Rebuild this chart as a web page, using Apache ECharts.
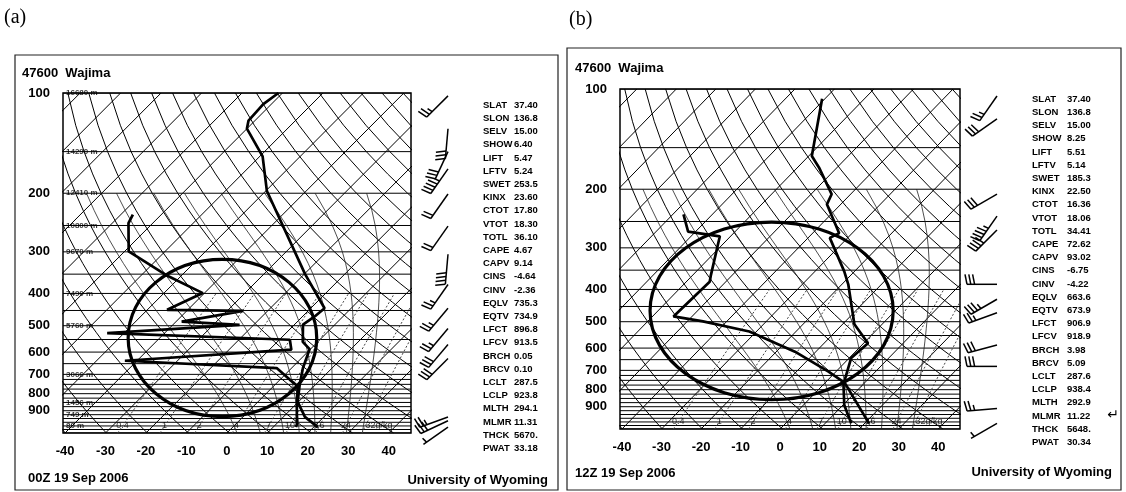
<!DOCTYPE html>
<html>
<head>
<meta charset="utf-8">
<script src="https://cdn.jsdelivr.net/npm/echarts@6/dist/echarts.min.js"></script>
<style>
html,body{margin:0;padding:0;background:#fff;}
#main{width:1126px;height:492px;}
</style>
</head>
<body>
<div id="main"></div>
<script>
// skew-T geometry
const SKEW = 82, P_TOP = 100, P_BOT = 1050, X_MIN = -40.5, X_MAX = 45.5;

// axis ticks
const xTicks = [-40, -30, -20, -10, 0, 10, 20, 30, 40];
const pTicks = [100, 200, 300, 400, 500, 600, 700, 800, 900];

// background lines of the diagram
const isobars = [100,150,200,250,300,350,400,450,500,550,600,650,700,725,750,775,800,825,850,875,900,925,950,975,1000,1025,1050];
const isotherms = [-130,-120,-110,-100,-90,-80,-70,-60,-50,-40,-30,-20,-10,0,10,20,30,40];
const dryThetas = [230,240,250,260,270,280,290,300,310,320,330,340,350,360,370,380,390,400,410,420,430,440,450,460];
const moistStarts = [0, 6, 12, 16, 20, 24, 28, 32];
const mixRatios = [0.4, 1, 2, 4, 7, 10, 16, 24, 32];
const mixLabels = ['0.4', '1', '2', '4', '7', '10', '16', '24', '32g/kg'];

// heights of standard levels, panel (a)
const heightsA = [[100,'16680 m'],[150,'14290 m'],[200,'12410 m'],[250,'10800 m'],[300,'9670 m'],
  [400,'7490 m'],[500,'5760 m'],[700,'3066 m'],[850,'1456 m'],[925,'749 m'],[1000,'80 m']];

// soundings [hPa, degC]
const tempA = [[100,-71],[108,-72],[121,-71.6],[128,-70],[155,-59.3],[197,-49.7],[350,-19.8],[443,-6.6],
  [469,-7],[496,-7.9],[559,-3.7],[588,-0.2],[670,2.8],[752,6.1],[846,9.8],[939,15.3],[1008,21]];
const dewA = [[232,-77],[246,-76],[299,-69],[352,-54],[399,-40.4],[448,-45.1],[451,-26.1],[486,-38.6],
  [497,-23.5],[526,-54.2],[551,-7.4],[590,-4.6],[637,-43],[670,-3.7],[727,2.5],[760,6],[863,10.3],[990,15.2],[1008,15.6]];
const tempB = [[107,-70.7],[159,-59.2],[172,-54.6],[207,-44.8],[222,-43.5],[271,-33.3],[280,-34.5],[353,-22.6],
  [386,-18.4],[509,-7],[580,1.1],[643,0.5],[758,4.6],[1010,21.1]];
const dewB = [[238,-77.3],[268,-71.9],[277,-62.7],[361,-55.5],[379,-54.1],[482,-54.7],[499,-46],[535,-31.8],
  [615,-15.3],[706,-1.9],[758,4.4],[889,10.3],[1010,16.6]];

// winds [hPa, direction deg, knots]
const windA = [[102,225,25],[128,185,30],[150,205,30],[169,215,45],[201,215,20],[251,215,20],
  [305,185,40],[376,215,25],[443,220,25],[510,220,25],[569,220,30],[627,225,30],
  [940,250,25],[965,245,30],[1008,235,5]];
const windB = [[105,215,25],[123,235,30],[207,240,30],[241,215,45],[265,225,40],[386,270,30],
  [428,240,35],[470,250,25],[587,255,30],[681,270,30],[911,265,25],[1010,240,5]];

// hand drawn ring [left degC, right degC, top hPa, bottom hPa]
const ringA = [-24.4, 22.2, 316, 937];
const ringB = [-32.9, 28.6, 251, 857];

// station indices
const indexNames = ['SLAT','SLON','SELV','SHOW','LIFT','LFTV','SWET','KINX','CTOT','VTOT','TOTL','CAPE','CAPV','CINS',
  'CINV','EQLV','EQTV','LFCT','LFCV','BRCH','BRCV','LCLT','LCLP','MLTH','MLMR','THCK','PWAT'];
const indexA = ['37.40','136.8','15.00','6.40','5.47','5.24','253.5','23.60','17.80','18.30','36.10','4.67','9.14','-4.64',
  '-2.36','735.3','734.9','896.8','913.5','0.05','0.10','287.5','923.8','294.1','11.31','5670.','33.18'];
const indexB = ['37.40','136.8','15.00','8.25','5.51','5.14','185.3','22.50','16.36','18.06','34.41','72.62','93.02','-6.75',
  '-4.22','663.6','673.9','906.9','918.9','3.98','5.09','287.6','938.4','292.9','11.22','5648.','30.34'];

const lp = p => Math.log10(p);
const sx = (t, p) => t + SKEW * Math.log10(P_BOT / p);
const toXY = arr => arr.map(d => [sx(d[1], d[0]), lp(d[0])]);

function levels(top, step) {
  const a = [];
  for (let p = P_BOT; p >= top; p -= step) a.push(p);
  return a;
}
function moistRate(tK, p) {
  const Rd = 287.04, cp = 1005.7, Lv = 2.501e6, eps = 0.622;
  const tc = tK - 273.15;
  const es = 6.112 * Math.exp(17.67 * tc / (tc + 243.5));
  const rs = eps * es / (p - es);
  return (Rd * tK + Lv * rs) / (p * (cp + Lv * Lv * rs * eps / (Rd * tK * tK)));
}
function moistLine(t0) {
  const pts = [];
  let t = t0 + 273.15;
  for (let p = 1000; p < P_BOT; p += 5) t += moistRate(t, p) * 5;
  for (let p = P_BOT; p >= 200; p -= 5) {
    if (p % 25 === 0) pts.push([sx(t - 273.15, p), lp(p)]);
    t -= moistRate(t, p) * 5;
  }
  return pts;
}
function mixTd(w, p) {
  const e = w * p / (622 + w);
  const a = Math.log(e / 6.112);
  return 243.5 * a / (17.67 - a);
}

const FONT = 'Liberation Sans';

function panelSeries(k, temp, dew, wind, ring, heights) {
  const g = k * 2;
  const base = {type: 'line', xAxisIndex: g, yAxisIndex: g, symbol: 'none', silent: true, z: 1};
  const thin = {color: '#000', width: 1};
  const out = [];
  isobars.forEach(p => out.push({...base, lineStyle: thin, data: [[X_MIN, lp(p)], [X_MAX, lp(p)]]}));
  isotherms.forEach(t => out.push({...base, lineStyle: thin, data: [[sx(t, P_BOT), lp(P_BOT)], [sx(t, P_TOP), lp(P_TOP)]]}));
  dryThetas.forEach(th => out.push({...base, lineStyle: thin,
    data: levels(P_TOP, 25).map(p => [sx(th * Math.pow(p / 1000, 0.286) - 273.15, p), lp(p)])}));
  moistStarts.forEach(t0 => out.push({...base, lineStyle: {color: '#222', width: 0.8}, data: moistLine(t0)}));
  mixRatios.forEach(w => out.push({...base, lineStyle: {color: '#444', width: 1, type: [2, 2]},
    data: levels(400, 25).map(p => [sx(mixTd(w, p), p), lp(p)])}));
  out.push({
    type: 'scatter', xAxisIndex: g, yAxisIndex: g, symbolSize: 0, silent: true, z: 3,
    data: mixRatios.map((w, i) => ({
      value: [sx(mixTd(w, 1000), 1000), lp(995)],
      label: {formatter: mixLabels[i], position: i === mixRatios.length - 1 ? 'right' : 'inside', distance: 0}
    })),
    label: {show: true, color: '#000', fontSize: 9, fontFamily: FONT}
  });
  if (heights) {
    out.push({
      type: 'scatter', xAxisIndex: g, yAxisIndex: g, symbolSize: 0, silent: true, z: 3,
      data: heights.map(h => ({value: [X_MIN, lp(h[0])], label: {formatter: h[1]}})),
      label: {show: true, position: 'right', distance: 3, color: '#000', fontSize: 8, fontWeight: 'bold', fontFamily: FONT}
    });
  }
  out.push({type: 'line', xAxisIndex: g, yAxisIndex: g, symbol: 'none', z: 5, data: toXY(temp),
    lineStyle: {color: '#000', width: 2.7}});
  out.push({type: 'line', xAxisIndex: g, yAxisIndex: g, symbol: 'none', z: 5, data: toXY(dew),
    lineStyle: {color: '#000', width: 2.7}});
  // hand drawn ring
  out.push({
    type: 'custom', xAxisIndex: g, yAxisIndex: g, z: 6, silent: true,
    data: [[ring[0], ring[1], lp(ring[2]), lp(ring[3])]],
    encode: {x: [0, 1], y: [2, 3]},
    renderItem: (params, api) => {
      const a = api.coord([api.value(0), api.value(2)]);
      const b = api.coord([api.value(1), api.value(3)]);
      return {
        type: 'ellipse',
        shape: {cx: (a[0] + b[0]) / 2, cy: (a[1] + b[1]) / 2, rx: Math.abs(b[0] - a[0]) / 2, ry: Math.abs(b[1] - a[1]) / 2},
        style: {fill: 'none', stroke: '#000', lineWidth: 3.2}
      };
    }
  });
  // wind barbs
  out.push({
    type: 'custom', xAxisIndex: g + 1, yAxisIndex: g + 1, z: 5, silent: true,
    data: wind.map(w => [0, lp(w[0]), w[1], w[2]]),
    encode: {x: 0, y: 1},
    renderItem: (params, api) => {
      const o = api.coord([api.value(0), api.value(1)]);
      const dir = api.value(2) * Math.PI / 180;
      let kt = api.value(3);
      const L = 30, ux = Math.sin(dir), uy = -Math.cos(dir);
      const px = -uy, py = ux;
      const st = {stroke: '#000', lineWidth: 1.5};
      const kids = [{type: 'line', shape: {x1: o[0], y1: o[1], x2: o[0] + ux * L, y2: o[1] + uy * L}, style: st}];
      let d = L;
      const pennants = Math.floor(kt / 50); kt -= pennants * 50;
      const fulls = Math.floor(kt / 10); kt -= fulls * 10;
      const half = kt >= 5;
      for (let i = 0; i < pennants; i++) {
        const a = [o[0] + ux * d, o[1] + uy * d];
        const b = [o[0] + ux * (d - 5), o[1] + uy * (d - 5)];
        kids.push({type: 'polygon', shape: {points: [a, b, [a[0] + px * 11, a[1] + py * 11]]}, style: {fill: '#000'}});
        d -= 6;
      }
      for (let i = 0; i < fulls; i++) {
        const a = [o[0] + ux * d, o[1] + uy * d];
        kids.push({type: 'line', shape: {x1: a[0], y1: a[1], x2: a[0] + px * 10 + ux * 2, y2: a[1] + py * 10 + uy * 2}, style: st});
        d -= 3.8;
      }
      if (half) {
        if (pennants + fulls === 0) d -= 3.8;
        const a = [o[0] + ux * d, o[1] + uy * d];
        kids.push({type: 'line', shape: {x1: a[0], y1: a[1], x2: a[0] + px * 5.5 + ux, y2: a[1] + py * 5.5 + uy}, style: st});
      }
      return {type: 'group', children: kids};
    }
  });
  return out;
}

function mainX(gi) {
  return {
    gridIndex: gi, type: 'value', min: X_MIN, max: X_MAX,
    axisLine: {show: false}, axisTick: {show: false}, splitLine: {show: false},
    axisLabel: {customValues: xTicks, color: '#000', fontSize: 13, fontWeight: 'bold', fontFamily: FONT, margin: 12}
  };
}
function mainY(gi) {
  return {
    gridIndex: gi, type: 'value', inverse: true, min: lp(P_TOP), max: lp(P_BOT),
    axisLine: {show: false}, axisTick: {show: false}, splitLine: {show: false},
    axisLabel: {customValues: pTicks.map(lp), formatter: v => Math.round(Math.pow(10, v)),
      color: '#000', fontSize: 13, fontWeight: 'bold', fontFamily: FONT, margin: 13}
  };
}
const hiddenX = gi => ({gridIndex: gi, type: 'value', min: 0, max: 1, show: false});
const hiddenY = gi => ({gridIndex: gi, type: 'value', inverse: true, min: lp(P_TOP), max: lp(P_BOT), show: false});

function txt(x, y, text, font, align) {
  return {
    type: 'text', silent: true,
    style: {x: x, y: y, text: text, font: font, fill: '#000',
      align: align || 'left', textAlign: align || 'left', verticalAlign: 'middle', textVerticalAlign: 'middle'}
  };
}
function indexBlock(xn, xv, y0, vals) {
  const f = 'bold 9.5px "' + FONT + '"';
  const mk = (x, lines) => ({
    type: 'text', silent: true,
    style: {x: x, y: y0, text: lines.join('\n'), font: f, fill: '#000', lineHeight: 13.2,
      align: 'left', textAlign: 'left', verticalAlign: 'top', textVerticalAlign: 'top'}
  });
  return [mk(xn, indexNames), mk(xv, vals)];
}

const chart = echarts.init(document.getElementById('main'));
const bold13 = 'bold 13px "' + FONT + '"';
chart.setOption({
  animation: false,
  backgroundColor: '#fff',
  grid: [
    {left: 63, top: 93, width: 348, height: 340, show: true, borderColor: '#000', borderWidth: 1.5},
    {left: 448, top: 93, width: 10, height: 340},
    {left: 620, top: 89, width: 340, height: 340, show: true, borderColor: '#000', borderWidth: 1.5},
    {left: 997, top: 89, width: 10, height: 340}
  ],
  xAxis: [mainX(0), hiddenX(1), mainX(2), hiddenX(3)],
  yAxis: [mainY(0), hiddenY(1), mainY(2), hiddenY(3)],
  series: [
    ...panelSeries(0, tempA, dewA, windA, ringA, heightsA),
    ...panelSeries(1, tempB, dewB, windB, ringB, null)
  ],
  graphic: [
    {type: 'rect', silent: true, shape: {x: 15, y: 55, width: 543, height: 435}, style: {fill: 'none', stroke: '#222', lineWidth: 1.2}},
    {type: 'rect', silent: true, shape: {x: 567, y: 48, width: 554, height: 442}, style: {fill: 'none', stroke: '#222', lineWidth: 1.2}},
    txt(4, 18, '(a)', '20px "Liberation Serif"'),
    txt(569, 20, '(b)', '20px "Liberation Serif"'),
    txt(22, 73, '47600  Wajima', bold13),
    txt(575, 68, '47600  Wajima', bold13),
    txt(28, 478, '00Z 19 Sep 2006', bold13),
    txt(575, 473, '12Z 19 Sep 2006', bold13),
    txt(548, 480, 'University of Wyoming', bold13, 'right'),
    txt(1112, 472, 'University of Wyoming', bold13, 'right'),
    txt(1113, 415, '\u21B5', '14px "DejaVu Sans"', 'center'),
    ...indexBlock(483, 514, 98.5, indexA),
    ...indexBlock(1032, 1067, 92.5, indexB)
  ]
});
</script>
</body>
</html>
